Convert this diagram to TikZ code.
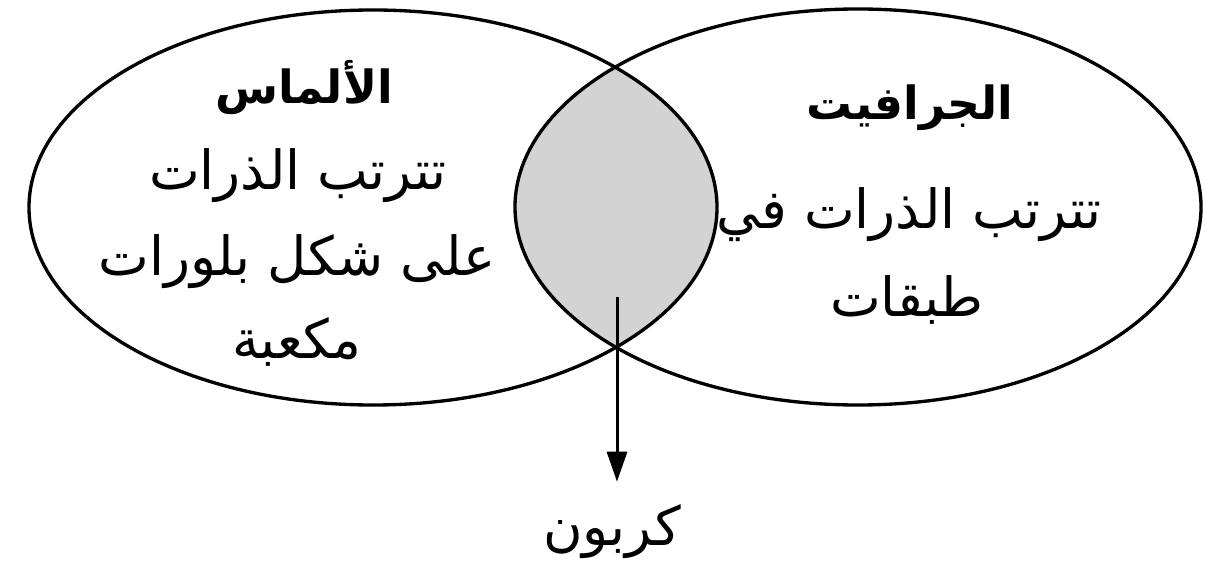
\documentclass[tikz,border=0pt]{standalone}
\usepackage{fontspec}
\newfontfamily\arabicfont[Script=Arabic]{DejaVu Sans}
\TeXXeTstate=1
\usetikzlibrary{shapes.geometric,arrows.meta}
\definecolor{lensgray}{RGB}{211,211,211}
\begin{document}
\begin{tikzpicture}[x=0.03cm,y=0.03cm,
  setline/.style={draw=black, line width=0.1cm},
  setell/.style={ellipse, setline, inner sep=0pt, outer sep=0pt},
  txt/.style={inner sep=0pt, font=\arabicfont\fontsize{46}{50}\selectfont},
  ttl/.style={inner sep=0pt, font=\arabicfont\bfseries\fontsize{39}{44}\selectfont},
  arrowline/.style={draw=black, line width=0.09cm, -{Triangle[length=0.9cm,width=0.6cm]}}]
\useasboundingbox (0,0) rectangle (1205,581);
\fill[white] (0,0) rectangle (1205,581);
% shaded intersection
\begin{scope}
  \clip (373,373.5) ellipse [x radius=344, y radius=197.5];
  \fill[lensgray] (858,374) ellipse [x radius=343, y radius=198];
\end{scope}
\node[setell, minimum width=20.64cm, minimum height=11.85cm] (diamond) at (373,373.5) {};
\node[setell, minimum width=20.58cm, minimum height=11.88cm] (graphite) at (858,374) {};
% left texts
\node[ttl] (l1) at (304,493) {\beginR الألماس\endR};
\node[txt] (l2) at (298,405) {\beginR تترتب الذرات\endR};
\node[txt] (l3) at (297,319) {\beginR على شكل بلورات\endR};
\node[txt] (l4) at (297,239) {\beginR مكعبة\endR};
% right texts
\node[ttl] (r1) at (910,473) {\beginR الجرافيت\endR};
\node[txt] (r2) at (909,366) {\beginR تترتب الذرات في\endR};
\node[txt] (r3) at (907,281) {\beginR طبقات\endR};
% arrow and label
\coordinate (arrstart) at (617,284);
\node[txt] (carbon) at (612,49) {\beginR كربون\endR};
\draw[arrowline, shorten >=0.69cm] (arrstart) -- (arrstart |- carbon.north);
\end{tikzpicture}
\end{document}
